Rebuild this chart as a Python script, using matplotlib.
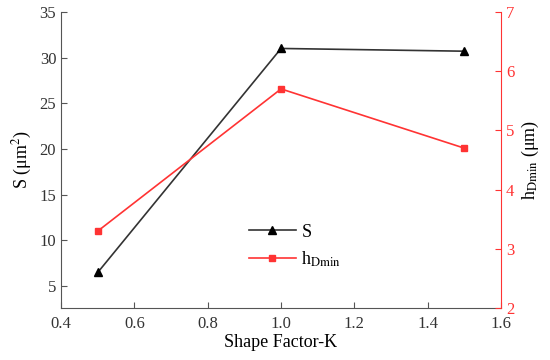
import matplotlib.pyplot as plt

plt.rcParams['font.family'] = ['Liberation Serif', 'DejaVu Serif']
plt.rcParams['mathtext.fontset'] = 'stix'

k = [0.5, 1.0, 1.5]
s_vals = [6.5, 31.0, 30.7]
h_vals = [3.3, 5.7, 4.7]

red = '#ff3333'
gray = '#555555'

fig = plt.figure(figsize=(5.5, 3.6), dpi=100)
ax = fig.add_axes([0.111, 0.144, 0.8, 0.823])
ax2 = ax.twinx()

l1, = ax.plot(k, s_vals, color='#333333', lw=1.2, marker='^', ms=6,
              mfc='black', mec='black', label='S')
l2, = ax2.plot(k, h_vals, color=red, lw=1.2, marker='s', ms=5,
               mfc=red, mec=red, label='h$_{\\mathrm{Dmin}}$')

ax.set_xlim(0.4, 1.6)
ax.set_ylim(2.6, 35)
ax2.set_ylim(2, 7)
ax.set_xticks([0.4, 0.6, 0.8, 1.0, 1.2, 1.4, 1.6])
ax.set_yticks([5, 10, 15, 20, 25, 30, 35])
ax2.set_yticks([2, 3, 4, 5, 6, 7])

for a in (ax, ax2):
    a.spines['top'].set_visible(False)
ax.spines['left'].set_color(gray)
ax.spines['bottom'].set_color(gray)
ax.spines['right'].set_visible(False)
ax2.spines['left'].set_visible(False)
ax2.spines['bottom'].set_visible(False)
ax2.spines['right'].set_color(red)

ax.tick_params(direction='in', length=4, labelsize=12, colors='#333333')
ax.tick_params(axis='both', color=gray)
ax.tick_params(axis='x', pad=6)
ax2.tick_params(direction='in', length=4, labelsize=12, colors=red)

ax.set_xlabel('Shape Factor-K', fontsize=13, labelpad=1)
ax.set_ylabel('S (μm$^2$)', fontsize=13, labelpad=4)
ax2.set_ylabel('h$_{\\mathrm{Dmin}}$ (μm)', fontsize=13, labelpad=4)

ax.legend(handles=[l1, l2], loc='upper left', bbox_to_anchor=(0.39, 0.34),
          frameon=False, fontsize=13, handlelength=2.6, handletextpad=0.3,
          labelspacing=0.5)

fig.savefig('out.png', dpi=100)
